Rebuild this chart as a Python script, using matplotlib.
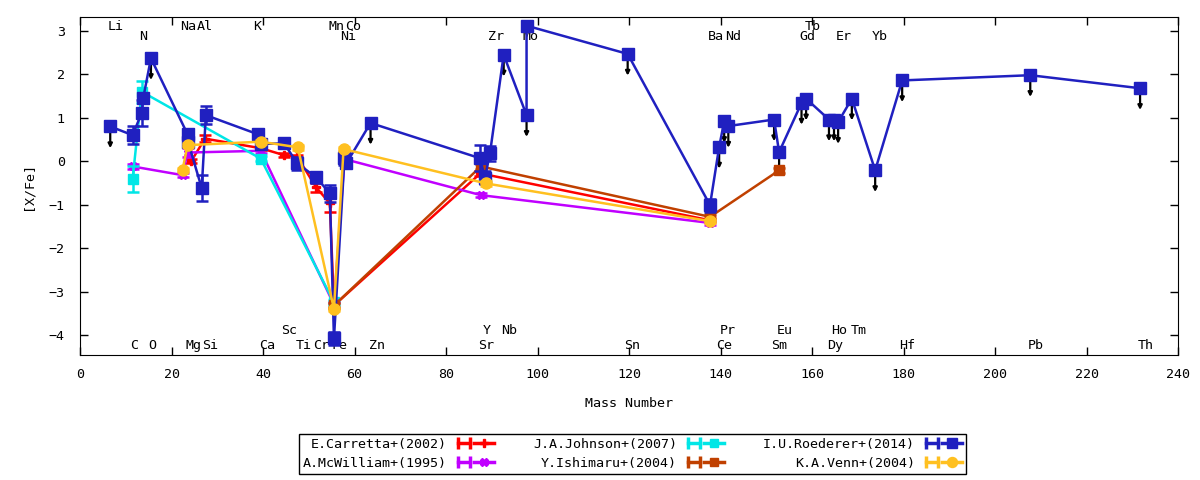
import matplotlib
matplotlib.use('Agg')
import matplotlib.pyplot as plt
from matplotlib.lines import Line2D
from matplotlib.legend_handler import HandlerLine2D, HandlerTuple

plt.rcParams['font.family'] = ['DejaVu Sans Mono']
plt.rcParams['font.size'] = 9.6

# --- dati ---
# E.Carretta+(2002)
car_mass = [24.3, 27.3, 39.5, 44.6, 47.5, 51.6, 54.6, 55.5, 87.5, 137.7]
car_val = [0.00, 0.52, 0.30, 0.14, 0.10, -0.60, -0.97, -3.32, -0.28, -1.36]
car_err = [0.05, 0.08, 0.05, 0.05, 0.05, 0.10, 0.20, 0.05, 0.05, 0.05]

# A.McWilliam+(1995)
mcw_mass = [11.5, 22.4, 23.5, 39.5, 55.5, 57.8, 87.6, 137.7]
mcw_val = [-0.12, -0.32, 0.20, 0.24, -3.30, 0.05, -0.78, -1.42]
mcw_err = [0.05, 0.05, 0.10, 0.05, 0.05, 0.05, 0.05, 0.05]

# J.A.Johnson+(2007)
joh_mass = [11.5, 13.5, 39.5, 55.5]
joh_val = [-0.40, 1.60, 0.06, -3.25]
joh_err = [0.30, 0.25, 0.05, 0.05]

# Y.Ishimaru+(2004)
ish_mass = [55.5, 87.6, 137.7, 152.8]
ish_val = [-3.32, -0.12, -1.28, -0.21]
ish_err = [0.05, 0.05, 0.05, 0.05]

# I.U.Roederer+(2014)
roe_mass = [6.6, 11.5, 13.5, 13.8, 15.5, 23.5, 23.6, 26.6, 27.5, 38.9, 39.5,
            44.6, 47.5, 51.6, 54.6, 55.5, 57.8, 58.2, 63.5, 87.4, 88.5, 89.6,
            92.6, 97.6, 97.6, 119.7, 137.7, 139.7, 140.8, 141.7, 151.7, 152.8,
            157.7, 158.7, 163.7, 164.8, 165.7, 168.7, 173.8, 179.7, 207.7, 231.7]
roe_val = [0.80, 0.60, 1.12, 1.45, 2.37, 0.62, 0.45, -0.62, 1.06, 0.62, 0.40,
           0.41, -0.05, -0.37, -0.74, -4.08, 0.07, -0.05, 0.88, 0.07, -0.38, 0.18,
           2.45, 1.06, 3.12, 2.47, -1.01, 0.33, 0.92, 0.81, 0.96, 0.21,
           1.34, 1.44, 0.96, 0.96, 0.90, 1.44, -0.21, 1.86, 1.98, 1.68]
roe_err = [0.0, 0.20, 0.30, 0.10, 0.0, 0.12, 0.10, 0.30, 0.20, 0.12, 0.10,
           0.10, 0.15, 0.12, 0.20, 0.15, 0.15, 0.10, 0.0, 0.30, 0.15, 0.18,
           0.0, 0.0, 0.0, 0.0, 0.15, 0.0, 0.0, 0.0, 0.0, 0.0,
           0.0, 0.0, 0.0, 0.0, 0.0, 0.0, 0.0, 0.0, 0.0, 0.0]
# limiti superiori (frecce)
roe_ul = [1, 0, 0, 0, 1, 0, 0, 0, 0, 0, 0,
          0, 0, 0, 0, 0, 0, 0, 1, 0, 0, 0,
          1, 1, 0, 1, 0, 1, 1, 1, 1, 1,
          1, 1, 1, 1, 1, 1, 1, 1, 1, 1]

# K.A.Venn+(2004)
ven_mass = [22.4, 23.5, 39.5, 47.6, 55.5, 57.6, 88.7, 137.7]
ven_val = [-0.20, 0.37, 0.45, 0.32, -3.40, 0.28, -0.51, -1.38]
ven_err = [0.05, 0.05, 0.05, 0.05, 0.05, 0.05, 0.05, 0.05]

# etichette degli elementi
el_top = ['Li', 'Na', 'Al', 'K', 'Mn', 'Co', 'Tb']
el_top_x = [6.1, 21.9, 25.6, 37.8, 54.2, 57.9, 158.5]
el_row2 = ['N', 'Ni', 'Zr', 'Mo', 'Ba', 'Nd', 'Gd', 'Er', 'Yb']
el_row2_x = [12.9, 56.8, 89.2, 96.8, 137.3, 141.0, 157.2, 165.2, 173.1]
el_row3 = ['Sc', 'Y', 'Nb', 'Pr', 'Eu', 'Ho', 'Tm']
el_row3_x = [43.9, 88.1, 92.0, 139.9, 152.3, 164.1, 168.5]
el_row4 = ['C', 'O', 'Mg', 'Si', 'Ca', 'Ti', 'Cr', 'Fe', 'Zn', 'Sr', 'Sn',
           'Ce', 'Sm', 'Dy', 'Hf', 'Pb', 'Th']
el_row4_x = [10.9, 14.9, 23.0, 26.7, 39.1, 47.2, 50.9, 54.9, 63.2, 87.0, 118.9,
             139.0, 151.0, 163.3, 179.0, 207.2, 231.3]

fig = plt.figure(figsize=(12, 4.8), dpi=100)
ax = fig.add_axes([0.0667, 0.2604, 0.9150, 0.7042])

serie = [
    ('E.Carretta+(2002)', car_mass, car_val, car_err, '#ff0000', 'P', 6),
    ('A.McWilliam+(1995)', mcw_mass, mcw_val, mcw_err, '#c000ff', 'X', 6),
    ('J.A.Johnson+(2007)', joh_mass, joh_val, joh_err, '#00e6e6', 's', 7),
    ('Y.Ishimaru+(2004)', ish_mass, ish_val, ish_err, '#c04000', 's', 7),
    ('I.U.Roederer+(2014)', roe_mass, roe_val, roe_err, '#2020c0', 's', 8.5),
    ('K.A.Venn+(2004)', ven_mass, ven_val, ven_err, '#ffc020', 'o', 8),
]

handles = []
labels = []
for i, (lab, m, v, e, col, mk, ms) in enumerate(serie):
    ax.errorbar(m, v, yerr=e, color=col, marker=mk, markersize=ms, lw=1.8,
                elinewidth=1.8, capsize=4, capthick=1.8, zorder=2 + i)
    caps = Line2D([], [], color=col, lw=2.5, marker='|', markersize=8, mew=2.5)
    main = Line2D([], [], color=col, lw=2.5, marker=mk, markersize=ms * 0.9)
    handles.append((caps, main))
    labels.append(lab)
    if lab.startswith('I.U.Roederer'):
        for x, y, ul in zip(m, v, roe_ul):
            if ul:
                ax.annotate('', xy=(x, y - 0.5), xytext=(x, y - 0.1),
                            arrowprops=dict(arrowstyle='-|>', color='black', lw=1.6,
                                            mutation_scale=6, shrinkA=0, shrinkB=0),
                            zorder=1)

# etichette: righe sopra e sotto
for names, xs, y in [(el_top, el_top_x, 3.11), (el_row2, el_row2_x, 2.86),
                     (el_row3, el_row3_x, -3.89), (el_row4, el_row4_x, -4.23)]:
    for n, x in zip(names, xs):
        ax.text(x, y, n, ha='left', va='center', zorder=1)

ax.set_xlim(0, 240)
ax.set_ylim(-4.46, 3.32)
ax.set_xticks(range(0, 241, 20))
ax.set_yticks(range(-4, 4))
ax.tick_params(direction='in', top=True, right=True, length=6, width=1)
ax.tick_params(axis='x', pad=9)
ax.tick_params(axis='y', pad=11)
ax.set_xlabel('Mass Number', labelpad=12)
ax.set_ylabel('[X/Fe]', labelpad=10)

handler_map = {h[0]: HandlerLine2D(numpoints=2) for h in handles}
handler_map.update({h[1]: HandlerLine2D(numpoints=1) for h in handles})
handler_map[tuple] = HandlerTuple(ndivide=None, pad=0)
leg = fig.legend(handles, labels, loc='center', bbox_to_anchor=(0.527, 0.054),
                 ncol=3, markerfirst=False, fancybox=False, edgecolor='black',
                 framealpha=1, handlelength=3.0, handletextpad=0.5,
                 columnspacing=2.95, borderpad=0.3, labelspacing=0.45,
                 handler_map=handler_map)
leg.get_frame().set_linewidth(1.0)

fig.savefig('out.png', dpi=100)
